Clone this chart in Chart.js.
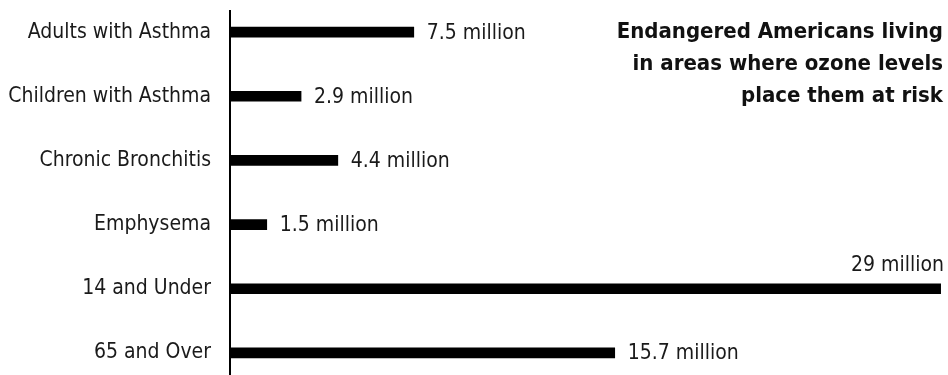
<!DOCTYPE html>
<html>
<head>
<meta charset="utf-8">
<script src="https://cdn.jsdelivr.net/npm/chart.js@4.4.1/dist/chart.umd.min.js"></script>
<style>
  html, body { margin: 0; padding: 0; background: #fff; overflow: hidden; }
  #wrap { position: relative; width: 948px; height: 375px; overflow: hidden; }
  #chart { position: absolute; left: 0; top: 0; }
  #title {
    position: absolute; right: 5px; top: 15px;
    font-family: 'Liberation Sans Narrow', 'DejaVu Sans Condensed', sans-serif;
    font-weight: bold; font-size: 22px; line-height: 32px;
    text-align: right; color: #111;
  }
</style>
</head>
<body>
<div id="wrap">
  <canvas id="chart" width="948" height="385"></canvas>
  <div id="title">Endangered Americans living<br>in areas where ozone levels<br>place them at risk</div>
</div>
<script>
const categories = ['Adults with Asthma', 'Children with Asthma', 'Chronic Bronchitis', 'Emphysema', '14 and Under', '65 and Over'];
const millions = [7.5, 2.9, 4.4, 1.5, 29, 15.7];
const valueLabels = ['7.5 million', '2.9 million', '4.4 million', '1.5 million', '29 million', '15.7 million'];

const FONT = "'Liberation Sans Narrow', 'DejaVu Sans Condensed', sans-serif";

// axis line + value labels
const extras = {
  id: 'extras',
  afterDatasetsDraw(chart) {
    const ctx = chart.ctx;
    const x = chart.scales.x;
    const area = chart.chartArea;
    const x0 = x.getPixelForValue(0);
    ctx.save();
    ctx.strokeStyle = '#000';
    ctx.lineWidth = 2;
    ctx.beginPath();
    ctx.moveTo(x0, 10);
    ctx.lineTo(x0, area.bottom);
    ctx.stroke();

    ctx.fillStyle = '#1a1a1a';
    ctx.font = '21px ' + FONT;
    const meta = chart.getDatasetMeta(0);
    meta.data.forEach((bar, i) => {
      const txt = valueLabels[i];
      const w = ctx.measureText(txt).width;
      if (bar.x + 13 + w > area.right) {
        // no room to the right: sit above the bar end
        ctx.textAlign = 'right';
        ctx.textBaseline = 'bottom';
        ctx.fillText(txt, area.right - 4, bar.y - 13);
      } else {
        ctx.textAlign = 'left';
        ctx.textBaseline = 'middle';
        ctx.fillText(txt, bar.x + 13, bar.y + 1);
      }
    });
    ctx.restore();
  }
};

new Chart(document.getElementById('chart').getContext('2d'), {
  type: 'bar',
  data: {
    labels: categories,
    datasets: [{
      data: millions,
      backgroundColor: '#000',
      barThickness: 10,
      borderWidth: 0
    }]
  },
  options: {
    indexAxis: 'y',
    responsive: false,
    animation: false,
    layout: { padding: 0, autoPadding: false },
    plugins: { legend: { display: false }, tooltip: { enabled: false }, title: { display: false } },
    scales: {
      x: { display: false, min: 0, max: 29.3 },
      y: {
        grid: { display: false, drawTicks: false },
        border: { display: false },
        ticks: { color: '#1a1a1a', padding: 19, font: { family: FONT, size: 21 } },
        afterFit(scale) {
          scale.width = 230;
          scale.paddingTop = 0;
          scale.paddingBottom = 0;
        }
      }
    }
  },
  plugins: [extras]
});
</script>
</body>
</html>
